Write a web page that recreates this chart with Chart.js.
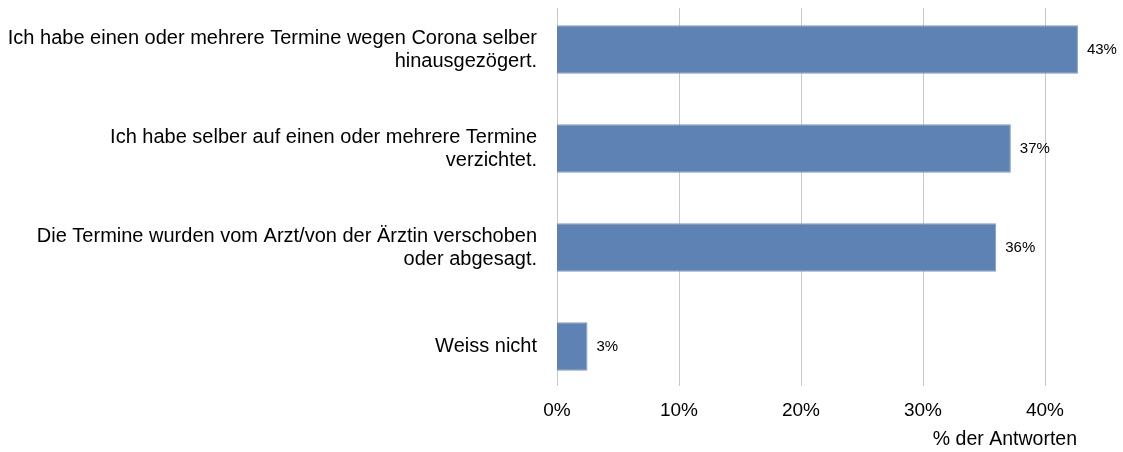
<!DOCTYPE html>
<html>
<head>
<meta charset="utf-8">
<script src="https://cdn.jsdelivr.net/npm/chart.js@4/dist/chart.umd.min.js"></script>
<style>
  html, body { margin: 0; padding: 0; background: #fff; }
  #wrap { width: 1123px; height: 452px; position: relative; }
</style>
</head>
<body>
<div id="wrap"><canvas id="chart"></canvas></div>
<script>
const categories = [
    ['Ich habe einen oder mehrere Termine wegen Corona selber', 'hinausgezögert.'],
    ['Ich habe selber auf einen oder mehrere Termine', 'verzichtet.'],
    ['Die Termine wurden vom Arzt/von der Ärztin verschoben', 'oder abgesagt.'],
    'Weiss nicht',
];
const shares = [42.7, 37.2, 36.0, 2.5];
const shareLabels = ['43%', '37%', '36%', '3%'];
const xTicks = [0, 10, 20, 30, 40];
const axisTitle = '% der Antworten';

const FONT = '"Liberation Sans", Arial, sans-serif';

// vertical gridlines (shorter than the category bands), value labels, axis title
const extras = {
    id: 'extras',
    beforeDatasetsDraw(chart) {
        const ctx = chart.ctx;
        const x = chart.scales.x;
        ctx.save();
        ctx.strokeStyle = '#C8C8C8';
        ctx.lineWidth = 1;
        xTicks.forEach(v => {
            const px = Math.round(x.getPixelForValue(v)) + 0.5;
            ctx.beginPath();
            ctx.moveTo(px, 8);
            ctx.lineTo(px, 386);
            ctx.stroke();
        });
        ctx.restore();
    },
    afterDatasetsDraw(chart) {
        const ctx = chart.ctx;
        const meta = chart.getDatasetMeta(0);
        ctx.save();
        ctx.font = '15px ' + FONT;
        ctx.fillStyle = '#000';
        ctx.textBaseline = 'middle';
        ctx.textAlign = 'left';
        meta.data.forEach((bar, i) => {
            ctx.fillText(shareLabels[i], bar.x + 9, bar.y);
        });
        ctx.font = '19.5px ' + FONT;
        ctx.textAlign = 'right';
        ctx.fillText(axisTitle, chart.chartArea.right - 29, 440);
        ctx.restore();
    }
};

new Chart(document.getElementById('chart'), {
    type: 'bar',
    data: {
        labels: categories,
        datasets: [{
            data: shares,
            backgroundColor: '#5E82B3',
            borderColor: '#7F9CC4',
            borderWidth: 1,
            categoryPercentage: 1,
            barPercentage: 0.49,
        }],
    },
    options: {
        indexAxis: 'y',
        responsive: true,
        maintainAspectRatio: false,
        animation: false,
        layout: { padding: { top: -2, right: 17, left: 0, bottom: 0 } },
        plugins: {
            legend: { display: false },
            tooltip: { enabled: false },
        },
        scales: {
            x: {
                min: 0,
                max: 45,
                afterBuildTicks: (scale) => { scale.ticks = xTicks.map(v => ({ value: v })); },
                afterFit: (scale) => { scale.height = 56; scale.paddingLeft = 0; scale.paddingRight = 0; },
                border: { display: false },
                grid: { display: false, drawTicks: false },
                ticks: {
                    padding: 3,
                    color: '#000',
                    font: { family: FONT, size: 19 },
                    callback: (v) => v + '%',
                },
            },
            y: {
                afterFit: (scale) => { scale.width = 557; scale.paddingTop = 0; scale.paddingBottom = 0; },
                border: { display: false },
                grid: { display: false, drawTicks: false },
                ticks: {
                    padding: 20,
                    color: '#000',
                    font: { family: FONT, size: 20, lineHeight: 1.15 },
                },
            },
        },
    },
    plugins: [extras],
});
</script>
</body>
</html>
